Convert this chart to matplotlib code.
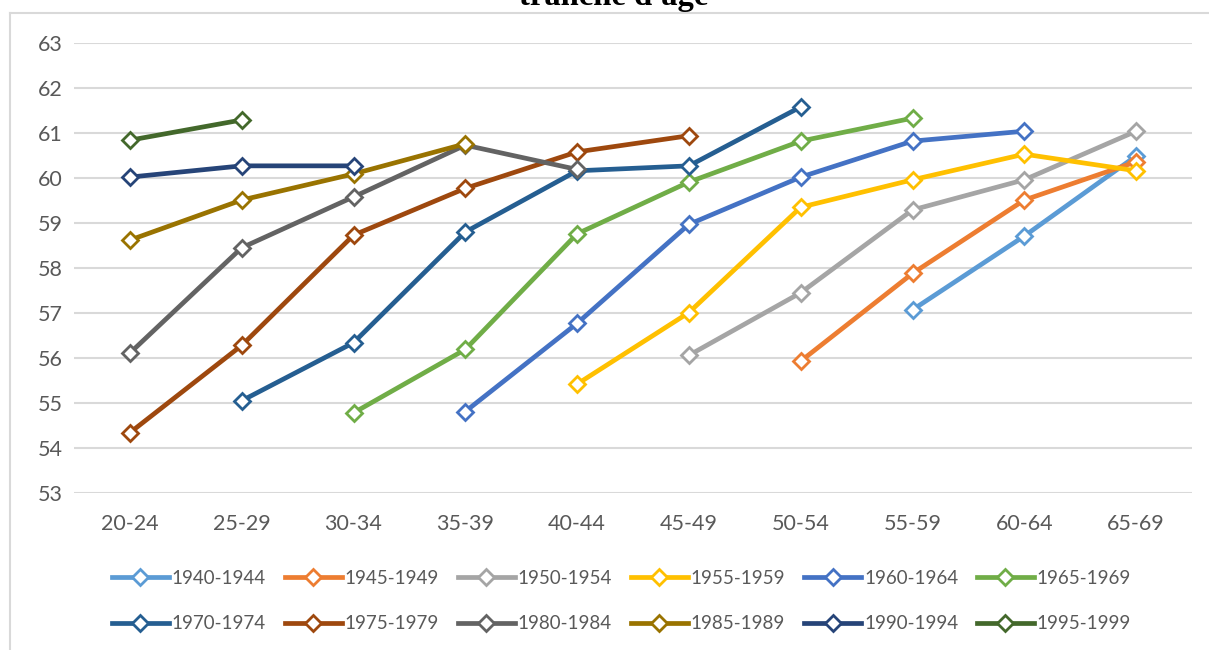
import numpy as np
import matplotlib.pyplot as plt
import matplotlib as mpl
from matplotlib.lines import Line2D

mpl.rcParams['font.family'] = ['Lato', 'DejaVu Sans']

tranches = ['20-24', '25-29', '30-34', '35-39', '40-44', '45-49',
            '50-54', '55-59', '60-64', '65-69']

cohortes = ['1940-1944', '1945-1949', '1950-1954', '1955-1959', '1960-1964', '1965-1969',
            '1970-1974', '1975-1979', '1980-1984', '1985-1989', '1990-1994', '1995-1999']

# index of first age group, then values
c1940 = (7, [57.07, 58.71, 60.49])
c1945 = (6, [55.93, 57.88, 59.51, 60.36])
c1950 = (5, [56.06, 57.45, 59.29, 59.96, 61.04])
c1955 = (4, [55.42, 57.01, 59.35, 59.96, 60.53, 60.16])
c1960 = (3, [54.81, 56.77, 58.97, 60.02, 60.82, 61.04])
c1965 = (2, [54.78, 56.19, 58.76, 59.91, 60.82, 61.33])
c1970 = (1, [55.05, 56.34, 58.80, 60.16, 60.27, 61.58])
c1975 = (0, [54.34, 56.28, 58.73, 59.77, 60.58, 60.94])
c1980 = (0, [56.11, 58.45, 59.58, 60.73, 60.19])
c1985 = (0, [58.62, 59.51, 60.09, 60.76])
c1990 = (0, [60.02, 60.27, 60.27])
c1995 = (0, [60.84, 61.29])

series = [c1940, c1945, c1950, c1955, c1960, c1965,
          c1970, c1975, c1980, c1985, c1990, c1995]

couleurs = ['#5B9BD5', '#ED7D31', '#A5A5A5', '#FFC000', '#4472C4', '#70AD47',
            '#255E91', '#9E480E', '#636363', '#997300', '#264478', '#43682B']

fig = plt.figure(figsize=(12.09, 6.5), dpi=100)
ax = fig.add_axes([74/1209, 1-493/650, (1192-74)/1209, 450/650])

for (debut, vals), nom, c in zip(series, cohortes, couleurs):
    x = np.arange(debut, debut + len(vals))
    ax.plot(x, vals, color=c, lw=3.4, marker='D', ms=7.8, mfc='white',
            mec=c, mew=2, label=nom, zorder=3)

ax.set_xlim(-0.5, 9.5)
ax.set_ylim(53, 63)
ax.set_yticks(range(53, 64))
ax.set_xticks(range(len(tranches)))
ax.set_xticklabels(tranches)
ax.grid(axis='y', color='#D9D9D9', lw=1.5)
ax.set_axisbelow(True)
for s in ax.spines.values():
    s.set_visible(False)
ax.tick_params(length=0, labelsize=15.5, labelcolor='#595959')
ax.tick_params(axis='x', pad=15)
ax.tick_params(axis='y', pad=8)

# legend filled row by row (matplotlib fills column by column)
ordre = [i + 6 * r for i in range(6) for r in range(2)]
handles = [Line2D([], [], color=couleurs[i], lw=3.4, marker='D', ms=7.8, mfc='white',
                  mec=couleurs[i], mew=2) for i in ordre]
leg = fig.legend(handles, [cohortes[i] for i in ordre], loc='center',
                 bbox_to_anchor=(0.514, 1-601/650), ncol=6, frameon=False,
                 fontsize=13.5, handlelength=3.05, handletextpad=0.15,
                 columnspacing=1.0, labelspacing=1.5)
for t in leg.get_texts():
    t.set_color('#595959')

# bordure du cadre du graphique (haut et gauche)
fig.add_artist(Line2D([10/1209, 1], [1-13/650, 1-13/650], transform=fig.transFigure,
                      color='#D9D9D9', lw=1.5))
fig.add_artist(Line2D([10/1209, 10/1209], [0, 1-13/650], transform=fig.transFigure,
                      color='#D9D9D9', lw=1.5))

fig.text(0.508, 1-5/650, "tranche d'âge", ha='center', va='baseline',
         fontsize=23.5, fontweight='bold', family=['Liberation Serif', 'DejaVu Serif'])

fig.savefig('out.png', dpi=100)
